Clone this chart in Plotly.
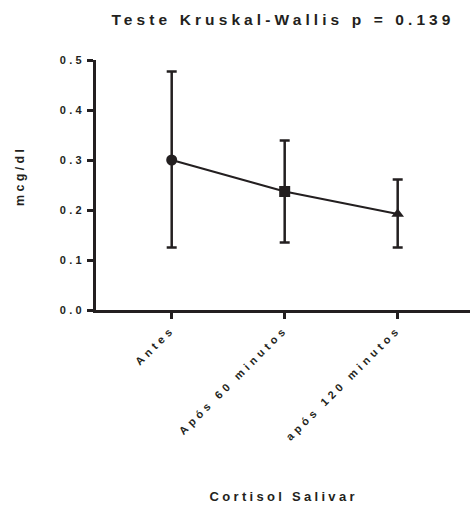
import plotly.graph_objects as go

categories = ["Antes", "Após 60 minutos", "após 120 minutos"]
means = [0.300, 0.237, 0.192]
upper = [0.477, 0.339, 0.261]
lower = [0.125, 0.135, 0.125]
symbols = ["circle", "square", "triangle-up"]
yticks = [0.0, 0.1, 0.2, 0.3, 0.4, 0.5]

INK = "#231f20"
FONT = "Liberation Sans, Arial, sans-serif"

err_plus = [u - m for u, m in zip(upper, means)]
err_minus = [m - l for m, l in zip(means, lower)]

fig = go.Figure()
fig.add_trace(go.Scatter(
    x=list(range(len(categories))), y=means,
    mode="lines+markers",
    line=dict(color=INK, width=2.2),
    marker=dict(symbol=symbols, size=11, color=INK),
    error_y=dict(type="data", symmetric=False, array=err_plus, arrayminus=err_minus,
                 color=INK, thickness=2.5, width=5),
    showlegend=False,
))

tickfont = dict(size=11, color=INK, family=FONT, weight="bold")
fig.update_layout(
    width=470, height=506,
    margin=dict(l=96, r=0, t=60, b=196),
    paper_bgcolor="white", plot_bgcolor="white",
    font=dict(family=FONT, color=INK, size=11, weight="bold"),
    title=dict(text="<b>Teste Kruskal-Wallis p = 0.139</b>", x=0.5, xref="paper",
               xanchor="center", y=1 - 20 / 506, yanchor="middle",
               font=dict(size=15.5, color=INK, family=FONT)),
    xaxis=dict(range=[-0.67, 2.64], tickmode="array",
               tickvals=list(range(len(categories))), ticktext=categories,
               tickangle=-45, showline=True, linecolor=INK, linewidth=2.5,
               ticks="outside", ticklen=6, tickwidth=2.5, tickcolor=INK,
               showgrid=False, zeroline=False, tickfont=tickfont),
    yaxis=dict(range=[0, 0.5], tickmode="array", tickvals=yticks,
               ticktext=[f"{v:.1f}" for v in yticks],
               showline=True, linecolor=INK, linewidth=2.5,
               ticks="outside", ticklen=6, tickwidth=2.5, tickcolor=INK,
               showgrid=False, zeroline=False, tickfont=tickfont),
    annotations=[
        dict(text="<b>mcg/dl</b>", x=0, xref="paper", xshift=-76, xanchor="center",
             y=(310 - 176) / 250, yref="paper", yanchor="middle",
             showarrow=False, textangle=-90, font=dict(size=12.5, color=INK, family=FONT)),
        dict(text="<b>Cortisol Salivar</b>", x=0.5, xref="paper", y=0, yref="paper",
             yshift=-186, yanchor="middle", showarrow=False,
             font=dict(size=13, color=INK, family=FONT)),
    ],
)

post = """
document.body.style.margin = '0';
document.body.style.padding = '0';
var gd = document.getElementsByClassName('plotly-graph-div')[0];
gd.querySelectorAll('.gtitle').forEach(function(t){t.style.letterSpacing='4.1px';});
gd.querySelectorAll('.xtick text').forEach(function(t){t.style.letterSpacing='4px';});
gd.querySelectorAll('.ytick text').forEach(function(t){t.style.letterSpacing='3.3px';});
gd.querySelectorAll('.annotation-text').forEach(function(t){t.style.letterSpacing='3.3px';});
"""
fig.write_html("out.html", post_script=post, config={"displayModeBar": False})
